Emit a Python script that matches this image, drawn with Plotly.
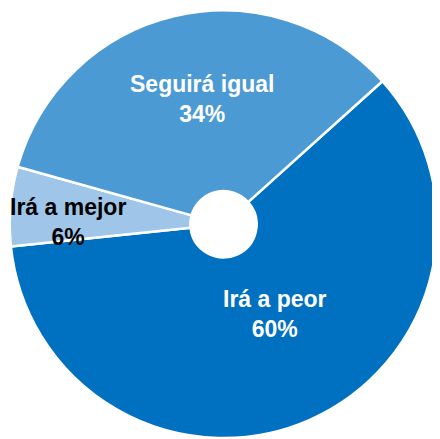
import plotly.graph_objects as go

labels = ["Irá a peor", "Irá a mejor", "Seguirá igual"]
values = [60, 6, 34]
colors = ["#0070C0", "#9FC5E8", "#4C9AD4"]
text_colors = ["white", "black", "white"]
# label centres in page pixels
label_pos_px = [(274.5, 314), (68, 222), (202, 98.5)]

OFF = 8  # browser default body margin
W, H = 440 - OFF, 439 - OFF


def px_to_paper(px, py):
    return (px - OFF) / W, 1 - (py - OFF) / H


x0, y_top = px_to_paper(8, 10.5)
x1, y_bot = px_to_paper(439, 438)

fig = go.Figure(go.Pie(
    labels=labels,
    values=values,
    sort=False,
    direction="clockwise",
    rotation=48,
    hole=0.155,
    marker=dict(colors=colors, line=dict(color="white", width=2.5)),
    textinfo="none",
    hoverinfo="label+percent",
    showlegend=False,
    domain=dict(x=[max(0, x0), min(1, x1)], y=[max(0, y_bot), min(1, y_top)]),
))

total = sum(values)
for lab, val, tc, (px, py) in zip(labels, values, text_colors, label_pos_px):
    ax, ay = px_to_paper(px, py)
    fig.add_annotation(
        x=ax, y=ay, xref="paper", yref="paper",
        text=f"<b>{lab}<br>{round(val / total * 100)}%</b>",
        showarrow=False, xanchor="center", yanchor="middle",
        font=dict(family="Liberation Sans, Arial, sans-serif", size=23, color=tc),
    )

fig.update_layout(
    width=W, height=H,
    margin=dict(l=0, r=0, t=0, b=0),
    paper_bgcolor="white",
    plot_bgcolor="white",
)

fig.write_html("out.html")
